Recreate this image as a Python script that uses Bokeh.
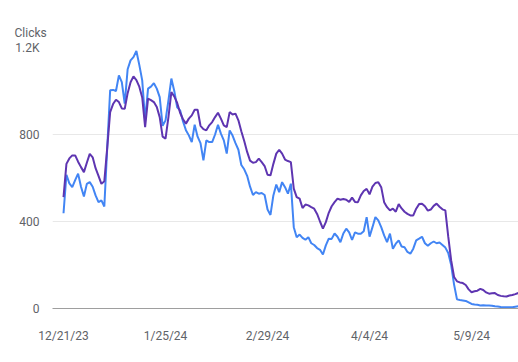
import pandas as pd
from bokeh.plotting import figure
from bokeh.models import FixedTicker, CustomJSTickFormatter, Range1d, Title
from bokeh.embed import file_html
from bokeh.resources import INLINE

start_date = "2023-12-21"
y_title = "Clicks"
tick_labels = ["12/21/23", "1/25/24", "2/29/24", "4/4/24", "5/9/24"]
y_ticks = [0, 400, 800, 1200]
y_tick_labels = ["0", "400", "800", "1.2K"]

purple = [512, 665, 690, 704, 704, 675, 650, 627, 670, 711, 695, 645, 610, 573, 585, 740,
          903, 940, 960, 949, 920, 918, 990, 1040, 1067, 1050, 1020, 970, 834, 965,
          958, 949, 926, 880, 790, 781, 880, 995, 975, 945, 900, 870, 850, 873, 888,
          914, 914, 840, 825, 819, 842, 857, 880, 900, 873, 842, 834, 903, 892, 896,
          865, 815, 770, 720, 680, 670, 673, 689, 673, 655, 615, 612, 665, 712, 730,
          712, 685, 678, 673, 551, 512, 505, 462, 478, 474, 466, 459, 435, 400, 367,
          397, 440, 470, 489, 505, 500, 503, 500, 490, 510, 490, 489, 520, 540, 550,
          525, 560, 577, 581, 558, 489, 466, 451, 459, 445, 480, 460, 445, 435, 428,
          428, 459, 480, 482, 470, 450, 455, 472, 482, 468, 456, 451, 330, 221, 145,
          125, 120, 117, 108, 88, 75, 79, 82, 90, 85, 74, 68, 70, 71, 62, 58, 56, 55,
          60, 62, 66, 71]

blue = [438, 615, 575, 558, 590, 620, 560, 515, 573, 581, 560, 520, 489, 497, 469, 740,
        1003, 1005, 1000, 1072, 1041, 942, 1100, 1141, 1156, 1184, 1120, 1049, 865, 1011,
        1020, 1036, 1011, 972, 840, 865, 957, 1057, 1000, 925, 911, 860, 820, 796, 765,
        845, 790, 760, 681, 773, 765, 765, 800, 845, 804, 773, 712, 819, 795, 760,
        730, 660, 640, 610, 560, 522, 535, 528, 531, 522, 455, 430, 520, 570, 535,
        581, 558, 528, 574, 374, 328, 340, 325, 316, 328, 300, 292, 278, 270, 248,
        290, 321, 320, 345, 330, 305, 345, 367, 350, 315, 350, 344, 344, 355, 420,
        330, 374, 420, 405, 374, 336, 305, 344, 275, 298, 313, 285, 282, 260, 252,
        275, 313, 321, 330, 300, 288, 300, 308, 300, 303, 292, 280, 255, 200, 110,
        42, 39, 37, 35, 28, 21, 18, 17, 14, 15, 14, 14, 13, 10, 9, 7, 6, 6,
        6, 6, 8, 10]

dates = pd.date_range(start_date, periods=len(purple), freq="D")
tick_dates = [pd.to_datetime(t, format="%m/%d/%y") for t in tick_labels]
tick_ms = [int(t.value // 10**6) for t in tick_dates]
day_ms = 86400000
start_ms = int(dates[0].value // 10**6)

font = "Roboto"
lab_color = "#5f6368"

title = Title(text=y_title, align="left", offset=-38, standoff=15,
              text_font=font, text_font_size="12px", text_font_style="normal",
              text_color=lab_color)

p = figure(width=518, height=362, x_axis_type="datetime",
           output_backend="svg", toolbar_location=None, title=title,
           x_range=Range1d(start_ms - 3.78 * day_ms, start_ms + 156.1 * day_ms),
           y_range=Range1d(0, 1200),
           min_border_left=52, min_border_right=0, min_border_top=47, min_border_bottom=54)
p.outline_line_color = None
p.background_fill_color = "white"
p.border_fill_color = "white"

p.line(dates, blue, line_color="#4285f4", line_width=2)
p.line(dates, purple, line_color="#5e35b1", line_width=2)

p.xaxis.ticker = FixedTicker(ticks=tick_ms)
p.xaxis.formatter = CustomJSTickFormatter(args=dict(tvals=tick_ms, tlabs=tick_labels),
    code="const i = tvals.indexOf(tick); return i >= 0 ? tlabs[i] : '';")
p.xaxis.axis_line_color = "#9e9e9e"
p.xaxis.major_tick_line_color = None
p.xaxis.minor_tick_line_color = None
p.xaxis.major_label_text_font = font
p.xaxis.major_label_text_font_size = "12px"
p.xaxis.major_label_text_color = lab_color
p.xaxis.major_label_standoff = 14

p.yaxis.ticker = FixedTicker(ticks=y_ticks)
p.yaxis.major_label_overrides = {t: l for t, l in zip(y_ticks, y_tick_labels)}
p.yaxis.axis_line_color = None
p.yaxis.major_tick_line_color = None
p.yaxis.minor_tick_line_color = None
p.yaxis.major_label_text_font = font
p.yaxis.major_label_text_font_size = "12px"
p.yaxis.major_label_text_color = lab_color
p.yaxis.major_label_standoff = 7

p.xgrid.grid_line_color = None
p.ygrid.grid_line_color = "#e8e8e8"

open("out.html", "w").write(file_html(p, INLINE))
